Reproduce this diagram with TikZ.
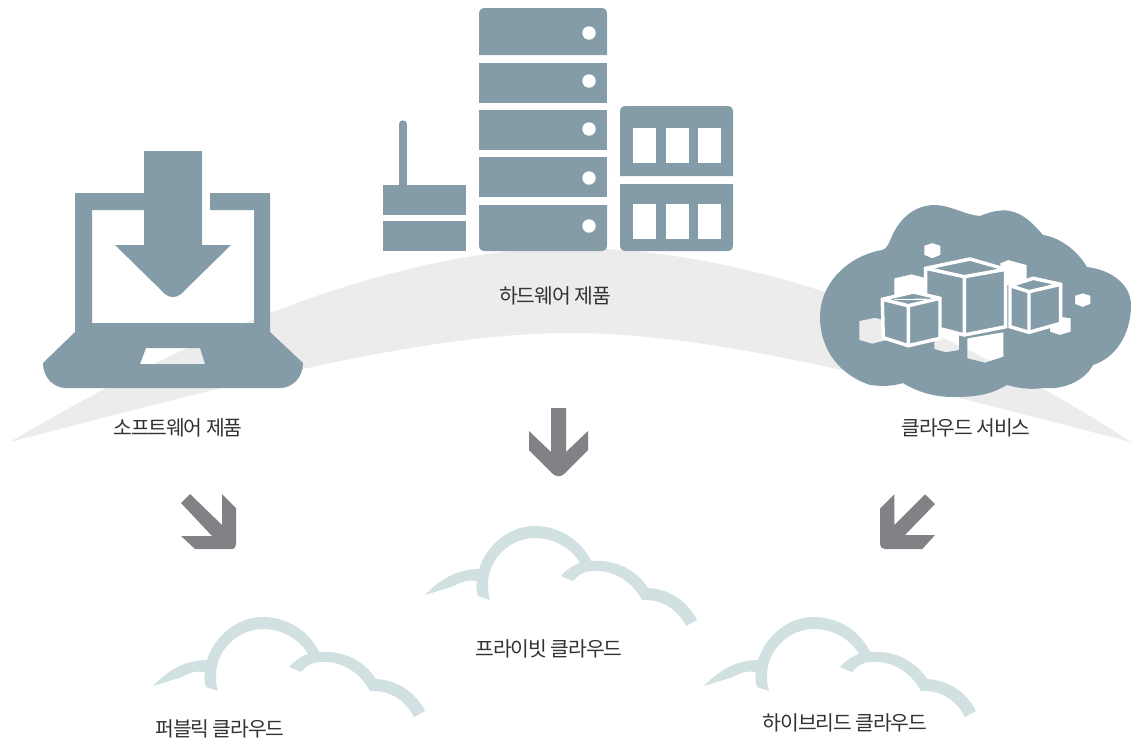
\documentclass[tikz,border=0pt]{standalone}
\usepackage{fontspec}
\setmainfont[LetterSpace=-5.5]{Noto Sans CJK KR}
\usetikzlibrary{positioning}
\definecolor{steel}{HTML}{849CA7}
\definecolor{band}{HTML}{ECECEC}
\definecolor{pointer}{HTML}{808285}
\definecolor{mist}{HTML}{D1E0E1}
\definecolor{caption}{HTML}{333333}
\tikzset{
  icon/.style={fill=steel},
  hole/.style={fill=white},
  pointer/.style={fill=pointer},
  caption/.style={text=caption, font=\fontsize{15.3}{17}\selectfont, inner sep=0pt},
  edge/.style={draw=white, line width=2.6pt, line join=miter, fill=steel},
  lightcloud/.pic={
    \fill[mist] (153,686) .. controls (170,668) and (188,660) .. (207,660)
      .. controls (215,635) and (238,617) .. (263,617)
      .. controls (288,617) and (310,632) .. (319,652)
      .. controls (345,650) and (365,662) .. (376,679)
      .. controls (398,680) and (416,693) .. (425,711)
      -- (414,717)
      .. controls (405,700) and (390,690) .. (370,691)
      .. controls (360,672) and (340,660) .. (320,662)
      .. controls (312,662) and (306,666) .. (301,672)
      -- (289,667)
      .. controls (295,660) and (302,656) .. (308,654)
      .. controls (300,640) and (283,629) .. (263,629)
      .. controls (238,629) and (216,650) .. (216,675)
      .. controls (216,680) and (216,685) .. (218,691)
      -- (206,687)
      .. controls (204,681) and (204,676) .. (205,672)
      .. controls (195,671) and (190,672) .. (182,677)
      -- cycle;
  }
}

\begin{document}
\begin{tikzpicture}[x=0.75pt, y=-0.75pt]
  \useasboundingbox (0,0) rectangle (1131,740);

  % Band
  \fill[band] (10,442) .. controls (240,305) and (430,248) .. (570,248)
    .. controls (710,248) and (905,295) .. (1131,442)
    .. controls (910,385) and (720,333) .. (570,333)
    .. controls (420,333) and (230,385) .. (10,442) -- cycle;

  % Laptop
  \fill[icon, even odd rule] (75,193) -- (144,193) -- (144,210) -- (92,210) -- (92,323)
    -- (254,323) -- (254,210) -- (210,210) -- (210,193) -- (270,193) -- (270,332) -- (303,363)
    .. controls (303,378) and (292,388) .. (280,388) -- (66,388)
    .. controls (54,388) and (43,378) .. (43,363) -- (75,332) -- cycle
    (146,348) -- (200,348) -- (205,364) -- (140,364) -- cycle;
  \fill[icon] (144,151) -- (202,151) -- (202,245) -- (231,245) -- (181,294)
    .. controls (177,298) and (169,298) .. (165,294) -- (115,245) -- (144,245) -- cycle;

  % Servers
  \fill[icon] (479,55) -- (479,14) .. controls (479,10) and (481,8) .. (485,8) -- (601,8)
    .. controls (605,8) and (607,10) .. (607,14) -- (607,55) -- cycle;
  \fill[icon] (479,63) rectangle (607,103);
  \fill[icon] (479,110) rectangle (607,150);
  \fill[icon] (479,157) rectangle (607,197);
  \fill[icon] (479,205) -- (607,205) -- (607,245) .. controls (607,249) and (605,251) .. (601,251)
    -- (485,251) .. controls (481,251) and (479,249) .. (479,245) -- cycle;
  \foreach \y in {33,81,129,178,226}
    \fill[hole] (589,\y) circle (6.7);

  % Router
  \draw[draw=steel, line width=5.5pt, line cap=round] (403,124) -- (403,190);
  \fill[icon] (383,185) rectangle (466,215);
  \fill[icon] (383,221) rectangle (466,251);

  % Storage
  \fill[icon] (620,176) -- (620,112) .. controls (620,108) and (622,106) .. (626,106) -- (727,106)
    .. controls (731,106) and (733,108) .. (733,112) -- (733,176) -- cycle;
  \fill[icon] (620,184) -- (733,184) -- (733,245) .. controls (733,249) and (731,251) .. (727,251)
    -- (626,251) .. controls (622,251) and (620,249) .. (620,245) -- cycle;
  \foreach \x in {633,666,698} {
    \fill[hole] (\x,128) rectangle ++(22.5,35);
    \fill[hole] (\x,204) rectangle ++(22.5,35);
  }

  % Cloud
  \fill[icon, even odd rule] (820,317) .. controls (820,283) and (848,256) .. (882,250)
    .. controls (887,249) and (889,243) .. (892,236)
    .. controls (900,218) and (915,205) .. (935,205)
    .. controls (950,205) and (965,215) .. (980,216)
    .. controls (990,212) and (1000,209) .. (1010,211)
    .. controls (1025,214) and (1034,225) .. (1043,235)
    .. controls (1062,238) and (1078,252) .. (1087,267)
    .. controls (1112,270) and (1131,285) .. (1131,305)
    .. controls (1131,335) and (1115,358) .. (1093,365)
    .. controls (1085,380) and (1065,390) .. (1043,388)
    .. controls (1030,390) and (1018,388) .. (1007,385)
    .. controls (990,395) and (975,397) .. (953,397)
    .. controls (935,397) and (917,392) .. (903,383)
    .. controls (890,387) and (880,386) .. (870,385)
    .. controls (840,375) and (820,350) .. (820,317) -- cycle
    (924.3,245.7) -- (932.3,243) -- (940.3,245.7) -- (940.3,255) -- (932.3,258.3) -- (924.3,255) -- cycle
    (1075,295.7) -- (1082.7,293.3) -- (1090.3,295.7) -- (1090.3,304) -- (1082.7,307) -- (1075,304) -- cycle
    (859.3,321) -- (875,317.7) -- (887.3,321) -- (887.3,340) -- (872.3,343.7) -- (859.3,340) -- cycle
    (894.3,278.3) -- (911.7,274.3) -- (924.3,277.7) -- (924.3,300) -- (894.3,300) -- cycle
    (934.3,325) -- (959,335) -- (959,350) -- (945.7,352.3) -- (934.3,349) -- cycle
    (967.3,338.3) -- (1003.3,332.3) -- (1003.3,356.7) -- (985,362.7) -- (967.3,358.3) -- cycle
    (1050,318) -- (1060,316.7) -- (1070.7,318.3) -- (1070.7,331.7) -- (1060,335) -- (1050,331.7) -- cycle
    (1000,263.3) -- (1008.3,260) -- (1026.7,265) -- (1026.7,285) -- (1005,285) -- cycle;

  % Cubes
  \draw[edge] (925.7,268.3) -- (970,259) -- (1005.7,269.3) -- (1005.7,326.7) -- (964.3,335) -- (925.7,325) -- cycle
    (925.7,268.3) -- (964.3,276.7) -- (1005.7,269.3) (964.3,276.7) -- (964.3,335);
  \draw[edge] (1010,285.7) -- (1033.3,278.3) -- (1060.7,284.3) -- (1060.7,323.3) -- (1029,332.3) -- (1010,326.7) -- cycle
    (1010,285.7) -- (1029,291.7) -- (1060.7,284.3) (1029,291.7) -- (1029,332.3);
  \draw[edge] (882.3,299.3) -- (913.3,292) -- (940,298.3) -- (940,338.3) -- (908.3,345.7) -- (883.3,337.7) -- cycle
    (882.3,299.3) -- (908.3,305.7) -- (940,298.3) (908.3,305.7) -- (908.3,345.7);

  % Arrows
  \fill[pointer] (181,503) -- (190,494) -- (222,525) -- (222,494) -- (236,508) -- (236,544)
    .. controls (236,547) and (235,549) .. (231,549) -- (195,549) -- (181,536) -- (212,536) -- cycle;
  \fill[pointer] (551,408) -- (566,408) -- (566,452) -- (588,431) -- (588,450) -- (564,474)
    .. controls (561,477) and (556,477) .. (553,474) -- (529,450) -- (529,431) -- (551,452) -- cycle;
  \fill[pointer] (894.3,494.3) -- (894.3,525) -- (925,494.3) -- (935,504) -- (905,535) -- (935,535)
    -- (922.3,549) -- (885,549) .. controls (882,549) and (880,547) .. (880,544) -- (880,508.7) -- cycle;

  % Light clouds
  \pic {lightcloud};
  \pic at (272,-91) {lightcloud};
  \pic at (551,0) {lightcloud};

  % Labels
  \node[caption] (software) at (178,428) {소프트웨어 제품};
  \node[caption] (hardware) at (555,296) {하드웨어 제품};
  \node[caption] (service) at (966,428) {클라우드 서비스};
  \node[caption] (public) at (220,729) {퍼블릭 클라우드};
  \node[caption] (private) at (549,649) {프라이빗 클라우드};
  \node[caption] (hybrid) at (845,723) {하이브리드 클라우드};
\end{tikzpicture}
\end{document}
